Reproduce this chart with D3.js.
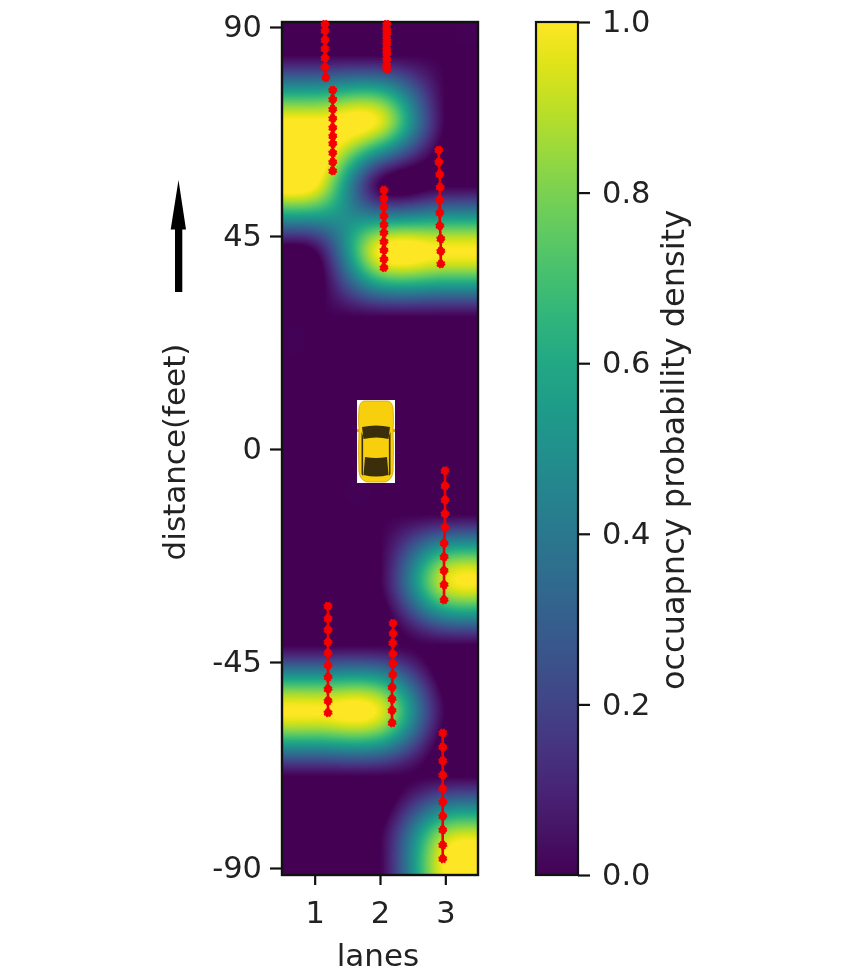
<!DOCTYPE html>
<html>
<head>
<meta charset="utf-8">
<script src="https://cdn.jsdelivr.net/npm/d3@7/dist/d3.min.js"></script>
<style>
html,body{margin:0;padding:0;background:#fff;}
svg{display:block;filter:blur(0.4px);}
text{font-family:"DejaVu Sans",sans-serif;fill:#222;}
</style>
</head>
<body>
<svg id="chart" width="860" height="980"></svg>
<script>
// ---------- data ----------
const laneTicks = [1, 2, 3];
const distanceTicks = [90, 45, 0, -45, -90];
const colorTicks = [0, 0.2, 0.4, 0.6, 0.8, 1];

// occupancy grid: 13 rows (top to bottom) by 3 lanes
const occupancyLane1 = [0, 1, 1, 0, 0, 0, 0, 0, 0, 0, 1, 0, 0];
const occupancyLane2 = [0, 0.96, 0, 1, 0, 0, 0, 0, 0, 0, 0.96, 0, 0];
const occupancyLane3 = [0, 0, 0, 1, 0, 0, 0, 0, 0.94, 0, 0, 0, 0.94];

// vehicle tracks: [lane, distance in feet]
const trackA = [[1.158,90.6],[1.158,89.2],[1.158,87.2],[1.158,85.3],[1.158,83.3],[1.158,81.3],[1.17,79.1]];
const trackB = [[2.103,90.6],[2.103,89.5],[2.103,88.5],[2.103,87.4],[2.103,86.3],[2.103,85.2],[2.103,84.2],[2.103,83],[2.103,81.8],[2.103,80.9]];
const trackC = [[1.276,76.4],[1.276,74.4],[1.276,72.3],[1.276,70.3],[1.276,68.3],[1.276,66.5],[1.276,64.9],[1.276,62.9],[1.276,60.9],[1.276,59]];
const trackD = [[2.06,54.9],[2.06,53.1],[2.06,51.3],[2.06,49.3],[2.06,47.4],[2.06,45.7],[2.06,43.8],[2.06,42],[2.06,40.1],[2.06,38.3]];
const trackE = [[2.9,63.5],[2.9,60.9],[2.915,58.3],[2.92,55.5],[2.915,52.8],[2.915,50],[2.915,47.2],[2.93,44.4],[2.93,41.8],[2.93,39.1]];
const trackF = [[2.995,-4.6],[2.995,-7.8],[2.995,-10.8],[2.995,-13.7],[2.995,-16.6],[2.98,-19.9],[2.98,-22.8],[2.98,-25.7],[2.98,-28.7],[2.98,-31.9]];
const trackG = [[1.204,-33.2],[1.204,-35.8],[1.204,-38.2],[1.204,-40.8],[1.204,-43.1],[1.204,-45.7],[1.204,-48.3],[1.204,-50.9],[1.204,-53.5],[1.204,-56.1]];
const trackH = [[2.2,-36.8],[2.2,-39],[2.195,-41],[2.195,-43.3],[2.195,-45.4],[2.195,-47.8],[2.184,-50.5],[2.184,-53.1],[2.184,-55.6],[2.184,-58.3]];
const trackI = [[2.96,-60.5],[2.96,-63.6],[2.96,-66.6],[2.96,-69.7],[2.96,-72.7],[2.96,-75.6],[2.96,-78.7],[2.96,-81.7],[2.96,-85],[2.96,-88]];
const tracks = [trackA, trackB, trackC, trackD, trackE, trackF, trackG, trackH, trackI];

const xLabel = "lanes";
const yLabel = "distance(feet)";
const colorLabel = "occuapncy probability density";

// ---------- layout ----------
const plot = {left: 282, right: 478, top: 22, bottom: 875};
const bar = {left: 536, right: 578};
const FONT = 30.5;

const svg = d3.select("#chart");

const x = d3.scaleLinear().domain([0.5, 3.5]).range([plot.left, plot.right]);
const y = d3.scaleLinear().domain([-90, -45, 0, 45, 90]).range([868, 662, 449, 236, 27]);
const c = d3.scaleLinear().domain([0, 1]).range([plot.bottom, plot.top]);
const color = d3.scaleSequential(d3.interpolateViridis).domain([0, 1]);

// grid-space scales for the density image
const grid = [occupancyLane1, occupancyLane2, occupancyLane3];
const nCols = grid.length, nRows = occupancyLane1.length;
const colOf = d3.scaleLinear().domain([plot.left, plot.right]).range([-0.5, nCols - 0.5]);
const rowOf = d3.scaleLinear().domain([plot.top, plot.bottom]).range([-0.5, nRows - 0.5]);

function kernel(t) {
  const a = Math.abs(t);
  if (a < 1) return 1.5*a*a*a - 2.5*a*a + 1;
  if (a < 2) return -0.5*a*a*a + 2.5*a*a - 4*a + 2;
  return 0;
}
function sample(col, row) {
  const c0 = Math.floor(col), r0 = Math.floor(row);
  let v = 0;
  for (let i = c0 - 1; i <= c0 + 2; i++) {
    const ci = Math.max(0, Math.min(nCols - 1, i));
    const kx = kernel(col - i);
    for (let j = r0 - 1; j <= r0 + 2; j++) {
      const rj = Math.max(0, Math.min(nRows - 1, j));
      v += grid[ci][rj] * kx * kernel(row - j);
    }
  }
  return Math.max(0, Math.min(1, v));
}

const W = plot.right - plot.left, H = plot.bottom - plot.top;
const canvas = document.createElement("canvas");
canvas.width = W; canvas.height = H;
const ctx = canvas.getContext("2d");
const img = ctx.createImageData(W, H);
for (let py = 0; py < H; py++) {
  for (let px = 0; px < W; px++) {
    const rgb = d3.rgb(color(sample(colOf(plot.left + px + 0.5), rowOf(plot.top + py + 0.5))));
    const k = (py * W + px) * 4;
    img.data[k] = rgb.r; img.data[k+1] = rgb.g; img.data[k+2] = rgb.b; img.data[k+3] = 255;
  }
}
ctx.putImageData(img, 0, 0);

svg.append("image")
  .attr("x", plot.left).attr("y", plot.top)
  .attr("width", W).attr("height", H)
  .attr("href", canvas.toDataURL());

// frame
svg.append("rect").attr("x", plot.left).attr("y", plot.top).attr("width", W).attr("height", H)
  .attr("fill", "none").attr("stroke", "#111").attr("stroke-width", 2.4);

// tracks
const line = d3.line().x(d => x(d[0])).y(d => y(d[1]));
const trackLayer = svg.append("g").attr("class", "tracks");
trackLayer.selectAll("path.track").data(tracks).join("path")
  .attr("class", "track").attr("d", line)
  .attr("fill", "none").attr("stroke", "#ee0000").attr("stroke-width", 2.6);
trackLayer.selectAll("g.pts").data(tracks).join("g").attr("class", "pts")
  .selectAll("circle").data(d => d).join("circle")
  .attr("cx", d => x(d[0])).attr("cy", d => y(d[1])).attr("r", 3.8)
  .attr("fill", "#f40000").attr("stroke", "#f40000")
  .attr("stroke-width", 1.5).attr("stroke-dasharray", "1.6 1.4");

// ego car (decoration)
const car = svg.append("g").attr("class", "car");
car.append("rect").attr("x", 357).attr("y", 400).attr("width", 38).attr("height", 83).attr("fill", "#fff");
car.append("path").attr("d", "M357,429 h38 v3 h-38 z").attr("fill", "#e0a80c");
car.append("path")
  .attr("d", "M364,401 h24 q4,1 5,7 q1,10 0,22 q1,20 0,42 q-1,8 -8,10 h-18 q-7,-2 -8,-10 q-1,-22 0,-42 q-1,-12 0,-22 q1,-6 5,-7 z")
  .attr("fill", "#f8cf0c").attr("stroke", "#cfa20a").attr("stroke-width", 0.8);
car.append("path").attr("d", "M362,427 q14,-3 28,0 l-1.5,12 q-12,-3 -25,0 z").attr("fill", "#3a2f0a");
car.append("path").attr("d", "M365,457 q11,2 22,0 l1.5,18 q-12.5,3 -25,0 z").attr("fill", "#3a2f0a");
car.append("path").attr("d", "M361.5,432 l1.6,4 v40 l-1.6,-2 z M390.5,432 l-1.6,4 v40 l1.6,-2 z").attr("fill", "#3a2f0a");

// direction arrow
svg.append("path")
  .attr("d", "M178.5,180 L186,229.5 L182.3,229.5 L182.3,292 L175,292 L175,229.5 L170.7,229.5 Z")
  .attr("fill", "#000");

function styleAxis(g) {
  g.selectAll(".domain").remove();
  g.selectAll("line").attr("stroke", "#111").attr("stroke-width", 2.2);
  g.selectAll("text").attr("font-size", FONT).attr("font-family", '"DejaVu Sans",sans-serif').attr("fill", "#222");
}
svg.append("g").attr("transform", `translate(0,${plot.bottom})`)
  .call(d3.axisBottom(x).tickValues(laneTicks).tickFormat(String).tickSize(10).tickPadding(16))
  .call(styleAxis);
svg.append("g").attr("transform", `translate(${plot.left},0)`)
  .call(d3.axisLeft(y).tickValues(distanceTicks).tickFormat(String).tickSize(12).tickPadding(8))
  .call(styleAxis);

// colour bar
const stops = d3.range(0, 1.0001, 0.05);
const defs = svg.append("defs");
const lg = defs.append("linearGradient").attr("id", "cb").attr("x1", 0).attr("x2", 0).attr("y1", 1).attr("y2", 0);
lg.selectAll("stop").data(stops).join("stop")
  .attr("offset", d => d).attr("stop-color", d => color(d));
svg.append("rect").attr("x", bar.left).attr("y", plot.top)
  .attr("width", bar.right - bar.left).attr("height", H)
  .attr("fill", "url(#cb)").attr("stroke", "#111").attr("stroke-width", 2.2);
svg.append("g").attr("transform", `translate(${bar.right},0)`)
  .call(d3.axisRight(c).tickValues(colorTicks).tickFormat(d3.format(".1f")).tickSize(12).tickPadding(12))
  .call(styleAxis);

// axis titles
svg.append("text").attr("x", 378).attr("y", 966).attr("text-anchor", "middle").attr("font-size", 31).text(xLabel);
svg.append("text").attr("transform", "translate(185,452) rotate(-90)").attr("text-anchor", "middle").attr("font-size", 31).text(yLabel);
svg.append("text").attr("transform", "translate(684,450) rotate(-90)").attr("text-anchor", "middle").attr("font-size", 32).text(colorLabel);
</script>
</body>
</html>
